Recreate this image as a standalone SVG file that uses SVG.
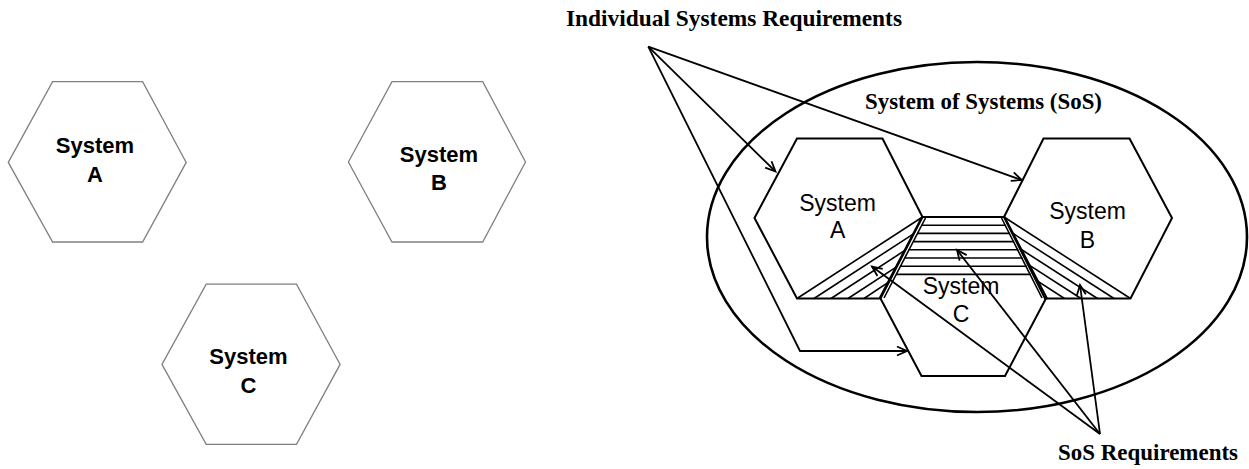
<svg xmlns="http://www.w3.org/2000/svg" width="1249" height="469" viewBox="0 0 1249 469">
<style>
.lhex{fill:#fff;stroke:#808080;stroke-width:1.3}
.rhex{fill:none;stroke:#000;stroke-width:2}
.ln{fill:none;stroke:#000;stroke-width:1.8}
.hatch{fill:none;stroke:#000;stroke-width:1.6}
.sys{font-family:"Liberation Sans",Arial,sans-serif;font-size:22px;font-weight:bold;fill:#000;text-anchor:middle}
.sysr{font-family:"Liberation Sans",Arial,sans-serif;font-size:23px;fill:#000;text-anchor:middle}
.lbl{font-family:"Liberation Serif","Times New Roman",serif;font-size:23px;font-weight:bold;fill:#000}
</style>
<defs>
<marker id="arr" markerUnits="userSpaceOnUse" markerWidth="14" markerHeight="12" refX="0" refY="0" viewBox="-11 -6 14 12" orient="auto" overflow="visible">
<path d="M-10,-4.5 L0,0 L-10,4.5" fill="none" stroke="#000" stroke-width="1.8"/>
</marker>
</defs>
<rect width="1249" height="469" fill="#fff"/>

<!-- Left: separate systems -->
<g id="left-system-a">
<polygon class="lhex" points="8.3,162.4 52.6,81.7 142.6,81.7 186.2,162.4 142.6,242 52.6,242"/>
<text class="sys" x="95" y="153">System</text>
<text class="sys" x="95" y="182">A</text>
</g>
<g id="left-system-b">
<polygon class="lhex" points="348.4,162 392,81.7 482.7,81.7 525.5,162 482.7,242 392,242"/>
<text class="sys" x="439" y="162">System</text>
<text class="sys" x="439" y="190">B</text>
</g>
<g id="left-system-c">
<polygon class="lhex" points="162,364.4 206.2,284.2 296.5,284.2 340.1,364.4 296.5,444.4 206.2,444.4"/>
<text class="sys" x="248.5" y="364">System</text>
<text class="sys" x="248.5" y="392.5">C</text>
</g>

<!-- Right: system of systems -->
<g id="sos">
<ellipse cx="977" cy="237" rx="270" ry="175" fill="none" stroke="#000" stroke-width="2.6"/>
<text class="lbl" x="865" y="109" textLength="237" lengthAdjust="spacingAndGlyphs">System of Systems (SoS)</text>
</g>

<g id="system-a">
<polygon class="rhex" points="754.5,218 797,138.5 882.5,138.5 922.5,217 880.5,298.5 797,298.5"/>
<text class="sysr" x="837.6" y="210.7">System</text>
<text class="sysr" x="837.6" y="238.3">A</text>
</g>
<g id="system-b">
<polygon class="rhex" points="1004,217 1043.5,138.5 1129.5,138.5 1172,218 1130.5,298.5 1045,298.5"/>
<text class="sysr" x="1087.5" y="219">System</text>
<text class="sysr" x="1087.5" y="247.7">B</text>
</g>
<g id="system-c">
<polygon class="rhex" points="922,217 1004.5,217 1046.5,297.5 1005,376 921.5,376 880,297.5"/>
<text class="sysr" x="961" y="294.3">System</text>
<text class="sysr" x="961" y="322.3">C</text>
</g>

<g id="sos-interfaces">
<!-- double edges -->
<line class="hatch" x1="925.5" y1="218" x2="884" y2="298"/>
<line class="hatch" x1="1001.5" y1="218" x2="1042" y2="298"/>
<!-- A side hatch -->
<line class="hatch" x1="797" y1="298.5" x2="922.5" y2="217"/>
<line class="hatch" x1="814" y1="298.5" x2="913.9" y2="233.6"/>
<line class="hatch" x1="831" y1="298.5" x2="905.2" y2="250.2"/>
<line class="hatch" x1="848" y1="298.5" x2="896.5" y2="266.8"/>
<line class="hatch" x1="864" y1="298.5" x2="888.2" y2="282.4"/>
<!-- B side hatch -->
<line class="hatch" x1="1130.5" y1="298.5" x2="1004" y2="217"/>
<line class="hatch" x1="1114" y1="298.5" x2="1011.9" y2="232.7"/>
<line class="hatch" x1="1097.5" y1="298.5" x2="1019.8" y2="248.5"/>
<line class="hatch" x1="1081" y1="298.5" x2="1027.7" y2="264.2"/>
<line class="hatch" x1="1064.5" y1="298.5" x2="1035.7" y2="279.9"/>
<!-- central horizontal hatch -->
<line class="hatch" x1="921.3" y1="225.2" x2="1005.7" y2="225.2"/>
<line class="hatch" x1="917.1" y1="233.4" x2="1009.9" y2="233.4"/>
<line class="hatch" x1="912.9" y1="241.6" x2="1014.1" y2="241.6"/>
<line class="hatch" x1="908.7" y1="249.8" x2="1018.3" y2="249.8"/>
<line class="hatch" x1="904.5" y1="258" x2="1022.5" y2="258"/>
<line class="hatch" x1="900.3" y1="266.2" x2="1026.7" y2="266.2"/>
<line class="hatch" x1="896.1" y1="274.4" x2="1030.9" y2="274.4"/>
</g>

<g id="labels">
<text class="lbl" x="566" y="26" textLength="336" lengthAdjust="spacingAndGlyphs">Individual Systems Requirements</text>
<text class="lbl" x="1058" y="460" textLength="180" lengthAdjust="spacingAndGlyphs">SoS Requirements</text>
</g>

<g id="connectors">
<line class="ln" x1="648.3" y1="46.7" x2="775.5" y2="171.5" marker-end="url(#arr)"/>
<line class="ln" x1="648.3" y1="46.7" x2="1021.7" y2="180" marker-end="url(#arr)"/>
<polyline class="ln" points="648.3,46.7 800,351 907,351" marker-end="url(#arr)"/>
<line class="ln" x1="1100" y1="434" x2="872" y2="266.5" marker-end="url(#arr)"/>
<line class="ln" x1="1100" y1="434" x2="957" y2="250" marker-end="url(#arr)"/>
<line class="ln" x1="1100" y1="434" x2="1080" y2="285" marker-end="url(#arr)"/>
</g>
</svg>
